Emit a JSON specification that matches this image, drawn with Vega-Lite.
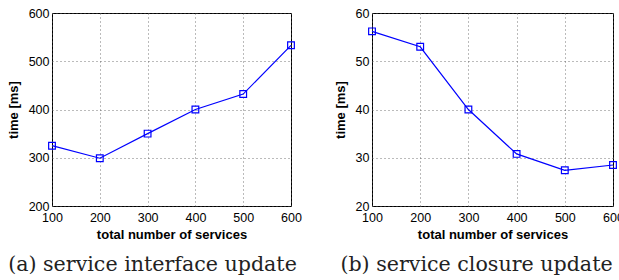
{
  "$schema": "https://vega.github.io/schema/vega-lite/v6.json",
  "padding": {"left": 6, "top": 6, "right": 0, "bottom": 0},
  "spacing": 31,
  "config": {
    "view": {"stroke": "black", "strokeWidth": 1},
    "axis": {
      "labelFont": "Liberation Sans", "labelFontSize": 12.5, "labelColor": "black", "labelFlush": false, "labelOverlap": false,
      "titleFont": "Liberation Sans", "titleFontSize": 13, "titleFontWeight": "bold", "titleColor": "black",
      "domain": false, "ticks": false, "grid": true, "gridColor": "#555", "gridDash": [1, 3], "gridOpacity": 0.8
    },
    "title": {"font": "DejaVu Serif", "fontSize": 20.6, "fontWeight": "normal", "color": "#222", "orient": "bottom", "offset": 13, "anchor": "middle", "frame": "group"}
  },
  "hconcat": [
    {
      "title": {"text": "(a) service interface update", "dx": -19},
      "width": 239, "height": 193,
      "data": {"values": [
        {"n": 100, "t": 325}, {"n": 200, "t": 299}, {"n": 300, "t": 350},
        {"n": 400, "t": 400}, {"n": 500, "t": 432}, {"n": 600, "t": 533}
      ]},
      "encoding": {
        "x": {"field": "n", "type": "quantitative", "scale": {"domain": [100, 600], "nice": false}, "axis": {"values": [100, 200, 300, 400, 500, 600], "title": "total number of services", "titlePadding": 5, "labelPadding": 5}},
        "y": {"field": "t", "type": "quantitative", "scale": {"domain": [200, 600], "nice": false}, "axis": {"values": [200, 300, 400, 500, 600], "title": "time [ms]", "titlePadding": 8, "labelPadding": 3}}
      },
      "layer": [
        {"mark": {"type": "line", "color": "#0000ff", "strokeWidth": 1.2}},
        {"mark": {"type": "point", "shape": "square", "filled": false, "color": "#0000ff", "size": 45, "strokeWidth": 1.2, "opacity": 1}}
      ]
    },
    {
      "title": {"text": "(b) service closure update", "dx": -16},
      "width": 241, "height": 193,
      "data": {"values": [
        {"n": 100, "t": 56.2}, {"n": 200, "t": 53}, {"n": 300, "t": 40},
        {"n": 400, "t": 30.8}, {"n": 500, "t": 27.4}, {"n": 600, "t": 28.5}
      ]},
      "encoding": {
        "x": {"field": "n", "type": "quantitative", "scale": {"domain": [100, 600], "nice": false}, "axis": {"values": [100, 200, 300, 400, 500, 600], "title": "total number of services", "titlePadding": 5, "labelPadding": 5}},
        "y": {"field": "t", "type": "quantitative", "scale": {"domain": [20, 60], "nice": false}, "axis": {"values": [20, 30, 40, 50, 60], "title": "time [ms]", "titlePadding": 8, "labelPadding": 3}}
      },
      "layer": [
        {"mark": {"type": "line", "color": "#0000ff", "strokeWidth": 1.2}},
        {"mark": {"type": "point", "shape": "square", "filled": false, "color": "#0000ff", "size": 45, "strokeWidth": 1.2, "opacity": 1}}
      ]
    }
  ]
}
